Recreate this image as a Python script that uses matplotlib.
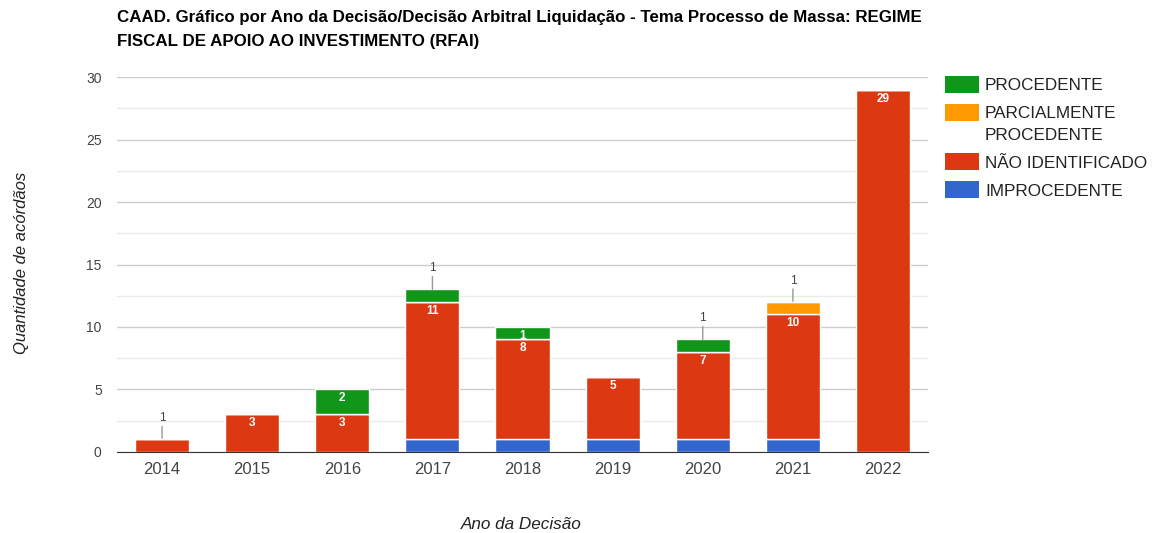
import matplotlib.pyplot as plt
from matplotlib.ticker import MultipleLocator
from matplotlib.patches import Rectangle
import numpy as np

plt.rcParams['font.family'] = ['Liberation Sans', 'DejaVu Sans']

anos = ['2014', '2015', '2016', '2017', '2018', '2019', '2020', '2021', '2022']
improcedente = [0, 0, 0, 1, 1, 1, 1, 1, 0]
nao_identificado = [1, 3, 3, 11, 8, 5, 7, 10, 29]
parcialmente = [0, 0, 0, 0, 0, 0, 0, 1, 0]
procedente = [0, 0, 2, 1, 1, 0, 1, 0, 0]

titulo = ('CAAD. Gráfico por Ano da Decisão/Decisão Arbitral Liquidação - Tema Processo de Massa: REGIME\n'
          'FISCAL DE APOIO AO INVESTIMENTO (RFAI)')

series = [
    ('IMPROCEDENTE', improcedente, '#3366cc'),
    ('NÃO IDENTIFICADO', nao_identificado, '#dc3912'),
    ('PARCIALMENTE\nPROCEDENTE', parcialmente, '#ff9900'),
    ('PROCEDENTE', procedente, '#109618'),
]

# rótulos que ficam fora da barra (com linha guia) / sem rótulo
fora = {(1, 0), (3, 3), (3, 6), (2, 7)}
sem_rotulo = {0}

W, H = 1154, 533
fig = plt.figure(figsize=(W / 100, H / 100), dpi=100)
ax = fig.add_axes([0.1014, 0.152, 0.7028, 0.7035])

x = np.arange(len(anos))
base = np.zeros(len(anos))
pts = 72 / 100  # pontos por pixel

for si, (nome, vals, cor) in enumerate(series):
    vals = np.array(vals, dtype=float)
    ax.bar(x, vals, 0.6, bottom=base, color=cor, edgecolor='white', linewidth=1, zorder=3)
    for i, v in enumerate(vals):
        if v == 0 or si in sem_rotulo:
            continue
        topo = base[i] + v
        if (si, i) in fora:
            ax.annotate('', xy=(x[i], topo), xytext=(0, 13 * pts), textcoords='offset points',
                        xycoords='data',
                        arrowprops=dict(arrowstyle='-', color='#999999', lw=1,
                                        shrinkA=0, shrinkB=0))
            ax.annotate(str(int(v)), xy=(x[i], topo), xytext=(0, 21 * pts),
                        textcoords='offset points', ha='center', va='center',
                        fontsize=8.5, color='#444444')
        else:
            ax.annotate(str(int(v)), xy=(x[i], topo), xytext=(0, -3 * pts),
                        textcoords='offset points', ha='center', va='top',
                        fontsize=8.5, color='white', fontweight='bold', zorder=5)
    base += vals

ax.set_xlim(-0.5, len(anos) - 0.5)
ax.set_ylim(0, 30)
ax.yaxis.set_major_locator(MultipleLocator(5))
ax.yaxis.set_minor_locator(MultipleLocator(2.5))
ax.grid(axis='y', which='major', color='#cccccc', lw=1, zorder=0)
ax.grid(axis='y', which='minor', color='#ebebeb', lw=1, zorder=0)
ax.set_xticks(x)
ax.set_xticklabels(anos)
ax.tick_params(axis='both', which='both', length=0, labelcolor='#444444')
ax.tick_params(axis='x', pad=7, labelsize=12)
ax.tick_params(axis='y', pad=11, labelsize=10)
for lado in ['top', 'right', 'left']:
    ax.spines[lado].set_visible(False)
ax.spines['bottom'].set_color('#333333')
ax.spines['bottom'].set_zorder(4)

fig.text(0.1014, 1 - 10 / H, titulo, ha='left', va='top', fontsize=12.2, fontweight='bold',
         color='#000000', linespacing=1.75)
fig.text(0.019, 0.507, 'Quantidade de acórdãos', rotation=90, ha='center', va='center',
         fontsize=12, style='italic', color='#222222')
fig.text(0.452, 0.016, 'Ano da Decisão', ha='center', va='center',
         fontsize=12.3, style='italic', color='#222222')

# legenda (ordem inversa das séries, como no original)
y_px = 84
for nome, _, cor in reversed(series):
    fig.patches.append(Rectangle((945 / W, 1 - (y_px + 8.5) / H), 34 / W, 17 / H,
                                 transform=fig.transFigure, facecolor=cor, edgecolor='none'))
    for k, linha in enumerate(nome.split('\n')):
        fig.text(985 / W, 1 - (y_px + 2 + 21 * k) / H, linha, ha='left', va='center',
                 fontsize=12.3, color='#222222')
    y_px += 28 + 21 * nome.count('\n')

fig.savefig('out.png', dpi=100)
